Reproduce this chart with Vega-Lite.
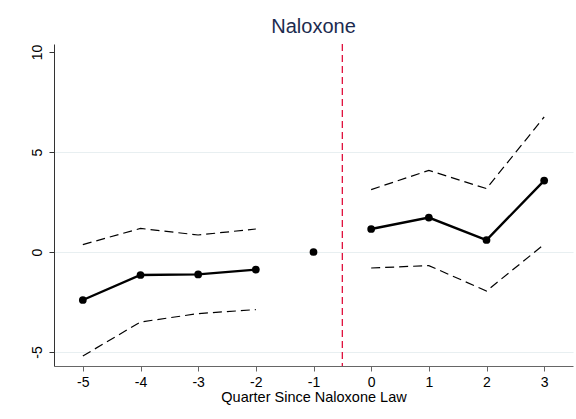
{
  "$schema": "https://vega.github.io/schema/vega-lite/v6.json",
  "autosize": {"type": "none"},
  "width": 519,
  "height": 322,
  "padding": {"left": 54, "top": 44, "right": 3, "bottom": 53},
  "background": "white",
  "title": {"text": "Naloxone", "fontSize": 20, "font": "Liberation Sans", "fontWeight": "normal", "color": "#1c2b4f", "offset": 6, "anchor": "middle"},
  "config": {
    "view": {"stroke": null},
    "font": "Liberation Sans"
  },
  "data": {"values": [
    {"q": -5, "b": -2.4, "lo": -5.2, "hi": 0.37, "seg": "pre"},
    {"q": -4, "b": -1.15, "lo": -3.5, "hi": 1.18, "seg": "pre"},
    {"q": -3, "b": -1.12, "lo": -3.08, "hi": 0.85, "seg": "pre"},
    {"q": -2, "b": -0.88, "lo": -2.88, "hi": 1.15, "seg": "pre"},
    {"q": -1, "b": 0, "lo": null, "hi": null, "seg": "ref"},
    {"q": 0, "b": 1.15, "lo": -0.8, "hi": 3.12, "seg": "post"},
    {"q": 1, "b": 1.72, "lo": -0.68, "hi": 4.08, "seg": "post"},
    {"q": 2, "b": 0.6, "lo": -1.95, "hi": 3.17, "seg": "post"},
    {"q": 3, "b": 3.57, "lo": 0.38, "hi": 6.75, "seg": "post"}
  ]},
  "encoding": {
    "x": {"field": "q", "type": "quantitative",
      "scale": {"domain": [-5.5, 3.5], "nice": false, "zero": false},
      "axis": {"values": [-5, -4, -3, -2, -1, 0, 1, 2, 3], "labelExpr": "'' + datum.value", "title": "Quarter Since Naloxone Law", "grid": false,
        "domainColor": "#666", "tickColor": "#666", "tickSize": 5, "labelFontSize": 14, "labelColor": "#000", "labelPadding": 4,
        "titleFontSize": 14.5, "titleFontWeight": "normal", "titleColor": "#000", "titlePadding": 1}
    }
  },
  "layer": [
    {
      "mark": {"type": "rule", "color": "#e0103c", "strokeDash": [7, 4], "strokeWidth": 1.3},
      "data": {"values": [{"xv": -0.5}]},
      "encoding": {"x": {"field": "xv", "type": "quantitative"}}
    },
    {
      "mark": {"type": "line", "color": "#000", "strokeDash": [9, 5], "strokeWidth": 1.2},
      "encoding": {
        "y": {"field": "hi", "type": "quantitative",
          "scale": {"domain": [-5.7, 10.4], "nice": false, "zero": false},
          "axis": {"values": [-5, 0, 5, 10], "labelExpr": "'' + datum.value", "title": null, "grid": true, "gridColor": "#e8eff1", "gridWidth": 1.2,
            "gridOpacity": {"condition": {"test": "datum.value == 10", "value": 0}, "value": 1},
            "domainColor": "#333", "tickColor": "#333", "tickSize": 5, "labelAngle": -90, "labelAlign": "center", "labelBaseline": "bottom",
            "labelFontSize": 14, "labelColor": "#000", "labelPadding": 5}
        },
        "detail": {"field": "seg"}
      }
    },
    {
      "mark": {"type": "line", "color": "#000", "strokeDash": [9, 5], "strokeWidth": 1.2},
      "encoding": {
        "y": {"field": "lo", "type": "quantitative"},
        "detail": {"field": "seg"}
      }
    },
    {
      "mark": {"type": "line", "color": "#000", "strokeWidth": 2.4},
      "encoding": {
        "y": {"field": "b", "type": "quantitative"},
        "detail": {"field": "seg"}
      }
    },
    {
      "mark": {"type": "point", "filled": true, "color": "#000", "opacity": 1, "size": 60},
      "encoding": {
        "y": {"field": "b", "type": "quantitative"}
      }
    }
  ]
}
